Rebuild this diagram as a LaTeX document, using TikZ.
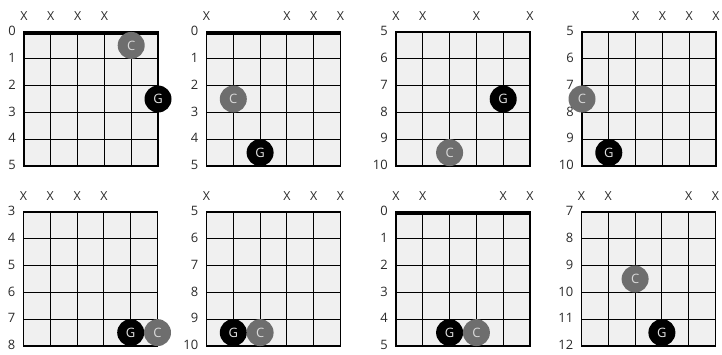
\documentclass[tikz,border=0pt]{standalone}
\usepackage{fontspec}
\setmainfont{Open Sans}
\usepackage{tikz}
\definecolor{boardgray}{HTML}{F0F0F0}
\definecolor{cnote}{HTML}{6E6E6E}
\definecolor{labgray}{HTML}{2A2A2A}
\newcommand{\cw}{26.8}
\tikzset{board/.style={fill=boardgray},
  fretline/.style={draw=black,line width=1.1bp},
  nutline/.style={line width=4bp,line cap=butt},
  fretnum/.style={anchor=east,inner sep=0pt,text=labgray,font=\fontsize{13}{14}\selectfont},
  mute/.style={inner sep=0pt,text=labgray,font=\fontsize{12.5}{14}\selectfont},
  note/.style={circle,minimum size=27bp,inner sep=0pt,font=\fontsize{13}{14}\selectfont},
  noteC/.style={note,fill=cnote,text=white!85!black},
  noteG/.style={note,fill=black,text=white!88!black}}
% #1 name, #2 top left of grid, #3 first fret, #4 muted strings, #5 notes string/cell/letter
\newcommand{\chordbox}[5]{%
\begin{scope}[shift={(#2)}]
\fill[board] (0,0) rectangle (5*\cw,5*\cw);
\foreach \i in {1,...,4}{\draw[fretline] (\i*\cw,0) -- (\i*\cw,5*\cw);
  \draw[fretline] (0,\i*\cw) -- (5*\cw,\i*\cw);}
\draw[fretline] (0,0) rectangle (5*\cw,5*\cw);
\ifnum#3=0\relax \draw[nutline] (0,1) -- (5*\cw,1);\fi
\foreach \f in {0,...,5}{\pgfmathtruncatemacro\fn{#3+\f}
  \node[fretnum] (#1-f\f) at (-8,\f*\cw-1) {\fn};}
\foreach \m in {#4} \node[mute] (#1-x\m) at (\m*\cw,-15.5) {X};
\foreach \s/\c/\l in {#5} \node[note\l] (#1-\l) at (\s*\cw,\c*\cw+0.5*\cw) {\l};
\end{scope}}

\begin{document}
\begin{tikzpicture}[x=1bp,y=-1bp]
\useasboundingbox (0,0) rectangle (722,354);
\chordbox{c1}{24,32}{0}{0,1,2,3}{4/0/C,5/2/G}
\chordbox{c2}{206.5,32}{0}{0,3,4,5}{1/2/C,2/4/G}
\chordbox{c3}{396,32}{5}{0,1,3,5}{4/2/G,2/4/C}
\chordbox{c4}{582,32}{5}{2,3,4,5}{0/2/C,1/4/G}
\chordbox{c5}{23.5,212}{3}{0,1,2,3}{4/4/G,5/4/C}
\chordbox{c6}{206.5,212}{5}{0,3,4,5}{1/4/G,2/4/C}
\chordbox{c7}{396,212}{0}{0,1,4,5}{2/4/G,3/4/C}
\chordbox{c8}{581.5,212}{7}{0,1,4,5}{2/2/C,3/4/G}
\end{tikzpicture}
\end{document}
